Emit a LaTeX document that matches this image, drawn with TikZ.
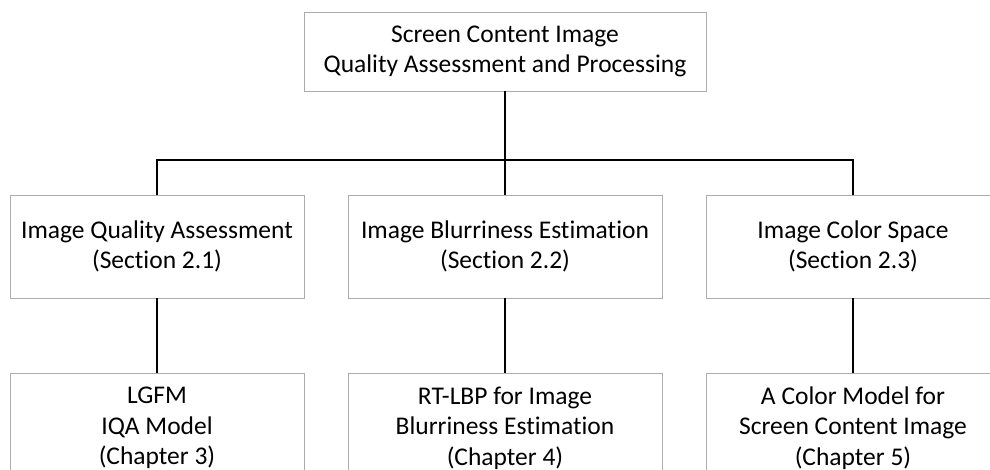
\documentclass[tikz,border=0pt]{standalone}
\usepackage{fontspec}
\setmainfont[Ligatures=NoCommon]{Carlito}
\usetikzlibrary{calc}
\usetikzlibrary{positioning}

\tikzset{
    topic_box/.style={draw=gray!65, line width=0.9pt, fill=white, align=center,
        inner sep=0pt, minimum width=294pt, minimum height=103pt,
        font=\fontsize{25.5}{30.5}\selectfont},
    link/.style={line width=1.8pt}
}

\begin{document}
\begin{tikzpicture}[x=1pt, y=-1pt]
        \useasboundingbox (0,0) rectangle (990,470);
        \clip (0,0) rectangle (990,470);

        % Root of the thesis
        \node [topic_box, minimum width=402pt, minimum height=79pt] (sci_root) at (505,51.5) {Screen Content Image\\Quality Assessment and Processing};
        \coordinate (bus) at (505,160);

        % Background sections and their chapters
        \foreach \i/\x/\w/\sec/\chap in {
            1/157/294/{Image Quality Assessment\\(Section 2.1)}/{LGFM\\IQA Model\\(Chapter 3)},
            2/505/314/{Image Blurriness Estimation\\(Section 2.2)}/{RT-LBP for Image\\Blurriness Estimation\\(Chapter 4)},
            3/853/294/{Image Color Space\\(Section 2.3)}/{A Color Model for\\Screen Content Image\\(Chapter 5)}} {
            \node [topic_box, minimum width=\w pt] (section\i) at (\x,246.5) {\sec};
            \node [topic_box, minimum width=\w pt, minimum height=109pt] (chapter\i) at (\x,428) {\chap};
            \draw [link] (section\i) -- (chapter\i);
        }

        \draw [link] (sci_root) -- (bus);
        \draw [link] (section1.north) |- (bus) -| (section3.north);
        \draw [link] (bus) -- (section2.north);
    \end{tikzpicture}
\end{document}
